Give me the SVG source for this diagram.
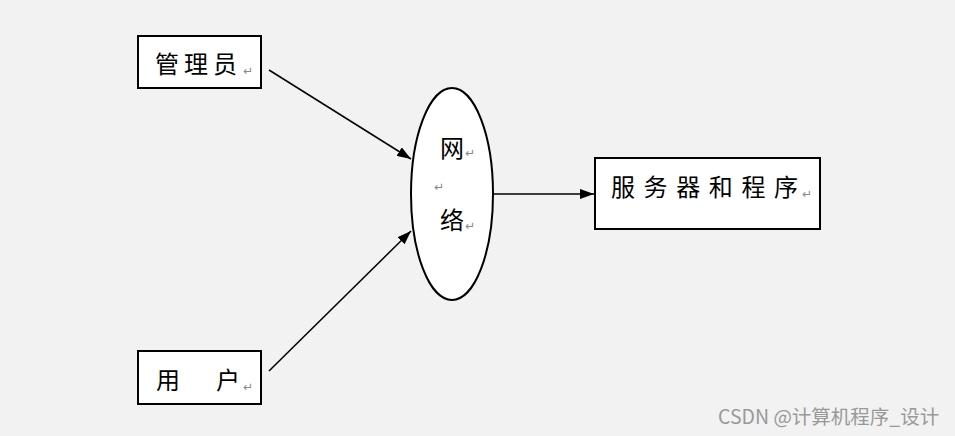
<svg xmlns="http://www.w3.org/2000/svg" width="955" height="436" viewBox="0 0 955 436">
<style>
.box{fill:#fff;stroke:#000;stroke-width:2}
.t{font-family:"Noto Sans CJK SC","Noto Sans",sans-serif;font-size:24px;fill:#000}
.r{font-family:"DejaVu Sans",sans-serif;font-size:12px;fill:#888}
.c{stroke:#000;stroke-width:1.5;fill:none}
.wm{font-family:"Noto Sans CJK SC","Liberation Sans",sans-serif;font-size:19.5px;fill:#999}
</style>
<defs>
<marker id="ah" markerWidth="14" markerHeight="10" refX="14" refY="5" orient="auto" markerUnits="userSpaceOnUse">
<path d="M0,0 L14,5 L0,10 z" fill="#000"/>
</marker>
</defs>
<rect width="955" height="436" fill="#f2f2f2"/>
<g id="admin">
<rect class="box" x="138" y="36" width="123" height="52"/>
<text class="t" x="155 184 213" y="73">管理员</text>
<text class="r" x="243" y="75">↵</text>
</g>
<g id="user">
<rect class="box" x="138" y="351" width="123" height="53"/>
<text class="t" x="156" y="389">用</text>
<text class="t" x="216" y="389">户</text>
<text class="r" x="243" y="391">↵</text>
</g>
<g id="network">
<ellipse cx="452" cy="194" rx="41" ry="106" fill="#fff" stroke="#000" stroke-width="2"/>
<text class="t" x="440" y="157">网</text>
<text class="r" x="465" y="157">↵</text>
<text class="r" x="434" y="191">↵</text>
<text class="t" x="440" y="229">络</text>
<text class="r" x="465" y="230">↵</text>
</g>
<g id="server">
<rect class="box" x="595" y="158" width="225" height="71"/>
<text class="t" x="611 643.6 676.2 708.8 741.4 774" y="196">服务器和程序</text>
<text class="r" x="802" y="198">↵</text>
</g>
<g id="connectors">
<line class="c" x1="269" y1="70" x2="411" y2="159" marker-end="url(#ah)"/>
<line class="c" x1="269" y1="371" x2="411" y2="231" marker-end="url(#ah)"/>
<line class="c" x1="493" y1="194" x2="594" y2="194" marker-end="url(#ah)"/>
</g>
<text class="wm" x="718" y="424">CSDN @计算机程序_设计</text>
</svg>
